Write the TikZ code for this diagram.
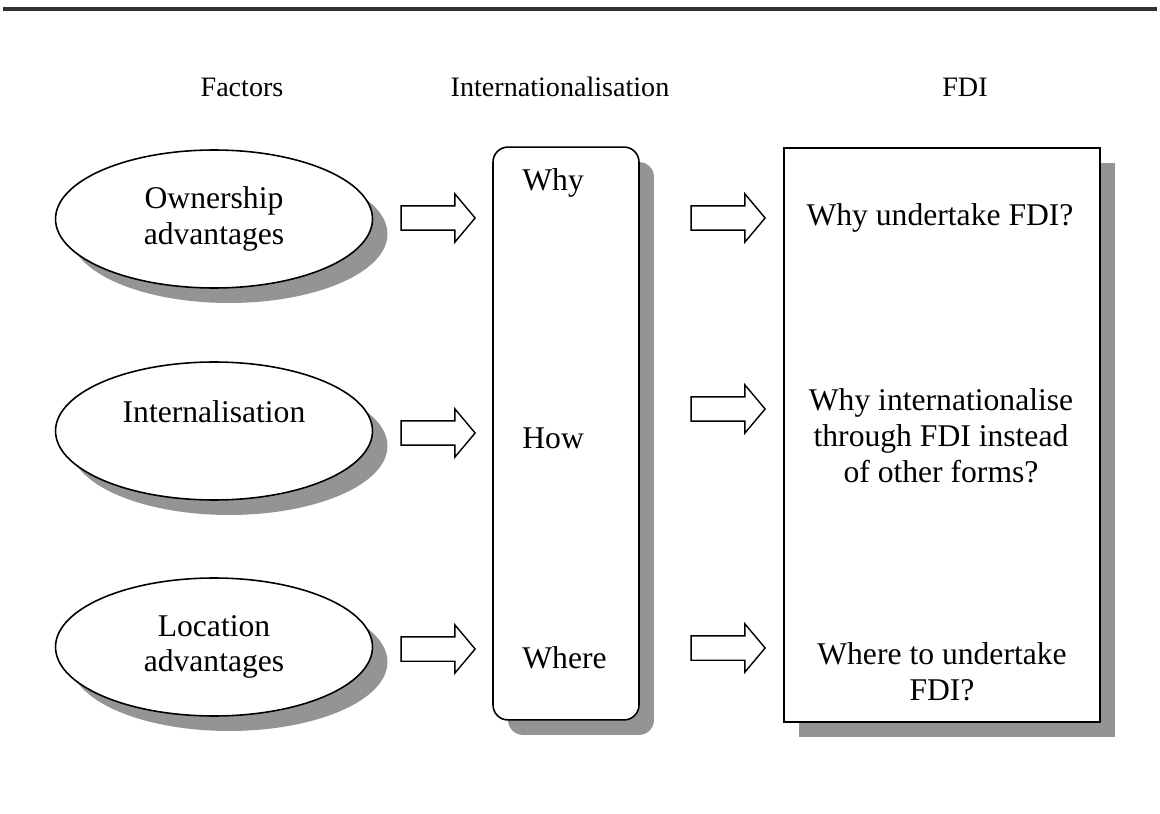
\documentclass[tikz,border=0pt]{standalone}
\usepackage{fontspec}
\setmainfont{Liberation Serif}
\usetikzlibrary{positioning,shapes.geometric,shapes.arrows,shadows}

\begin{document}
\begin{tikzpicture}[
  x=0.02cm, y=-0.02cm,
  castshadow/.style={drop shadow={shadow xshift=0.3cm, shadow yshift=-0.3cm, fill=black!42, opacity=1}},
  factor/.style={draw, ellipse, line width=0.9pt, fill=white, castshadow, minimum width=6.34cm, minimum height=2.76cm, inner sep=0pt, align=center, font=\fontsize{18}{20}\selectfont},
  panel/.style={draw, rectangle, line width=0.9pt, fill=white, castshadow},
  push/.style={single arrow, draw, fill=white, line width=0.8pt, minimum height=1.48cm, inner xsep=0pt, inner ysep=0.23cm, single arrow head extend=0.24cm, single arrow tip angle=100},
  heading/.style={font=\fontsize{16}{19}\selectfont},
  txt/.style={align=center, font=\fontsize{18}{20.5}\selectfont}
]
\useasboundingbox (0,0) rectangle (1160,814);

% Rule on top
\coordinate (ruleL) at (3,9);
\coordinate (ruleR) at (1157,9);
\draw[line width=2.4pt, black!80] (ruleL) -- (ruleR);

% Column headings
\node[heading] (hfac) at (242,87) {Factors};
\node[heading] (hint) at (560,87) {Internationalisation};
\node[heading] (hfdi) at (965,87) {FDI};

% Factors
\node[factor] (own) at (214,219) {Ownership\\advantages};
\node[factor] (inz) at (214,431) {};
\node[txt] (inztxt) at (214,412) {Internalisation};
\node[factor] (loc) at (214,647) {Location\\advantages};

% Internationalisation box
\node[panel, rounded corners=0.3cm, minimum width=2.92cm, minimum height=11.46cm] (intl) at (566,433.5) {};
\node[txt, anchor=west, inner xsep=0pt] (why) at (522,183) {Why};
\node[txt, anchor=west, inner xsep=0pt] (how) at (522,438) {How};
\node[txt, anchor=west, inner xsep=0pt] (where) at (522,658) {Where};

% FDI box
\node[panel, minimum width=6.32cm, minimum height=11.48cm] (fdi) at (942,435) {};
\node[txt] (q1) at (940,218) {Why undertake FDI?};
\node[txt] (q2) at (941,436) {Why internationalise\\through FDI instead\\of other forms?};
\node[txt] (q3) at (942,672) {Where to undertake\\FDI?};

% Block arrows
\node[push] (a1) at (433,218) {};
\node[push] (a2) at (433,433) {};
\node[push] (a3) at (433,649) {};
\node[push] (b1) at (723,218) {};
\node[push] (b2) at (723,409) {};
\node[push] (b3) at (723,648) {};

\end{tikzpicture}
\end{document}
